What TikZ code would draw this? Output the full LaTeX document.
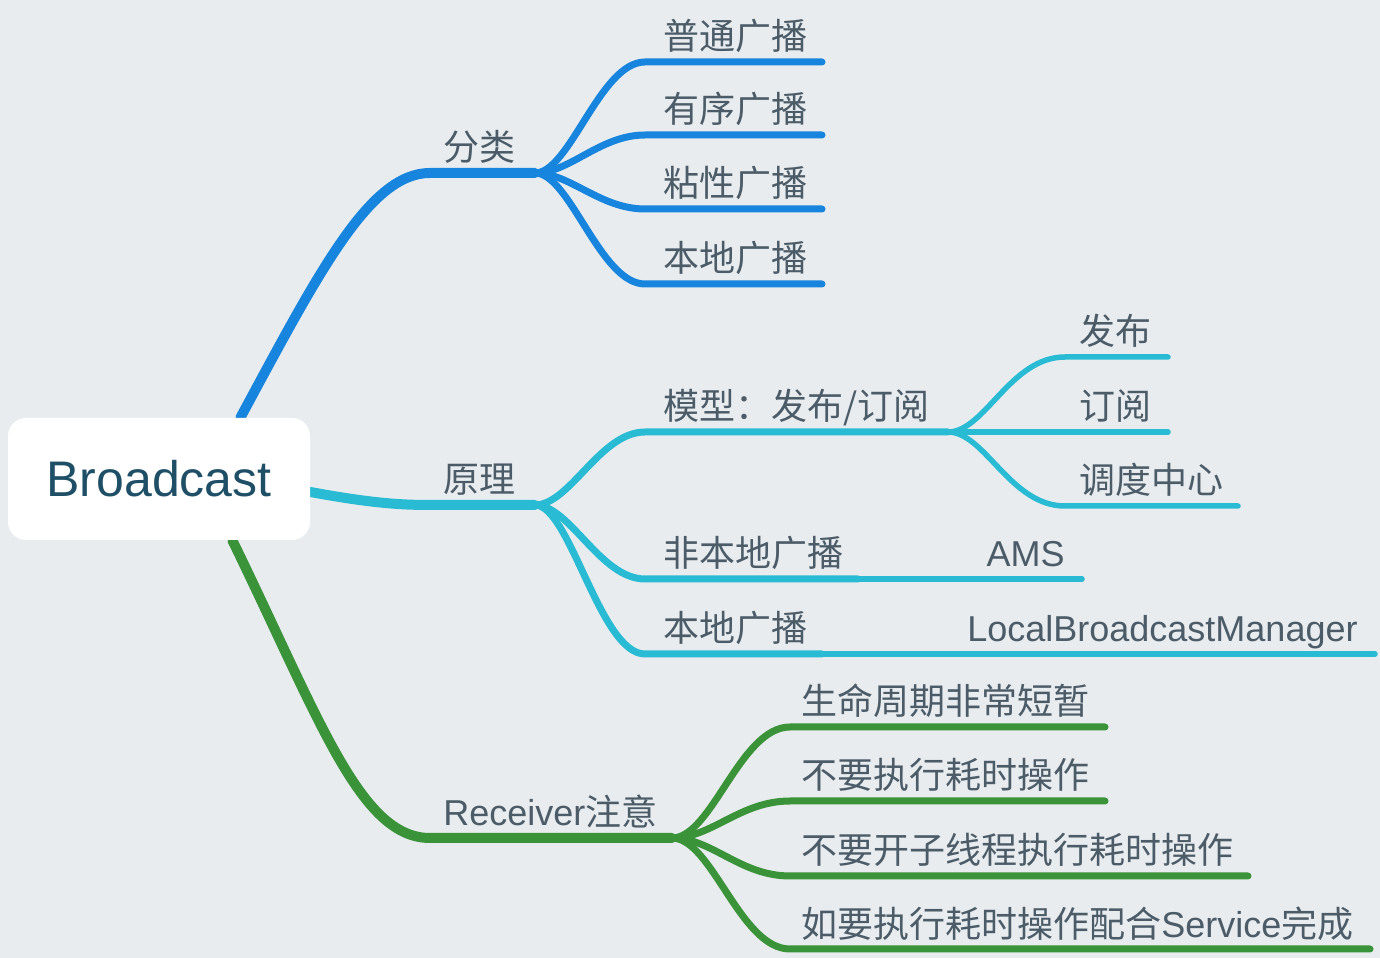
\documentclass[tikz,border=0pt]{standalone}
\usepackage{fontspec}
\setmainfont{Liberation Sans}
\newfontfamily\cjk{Noto Sans CJK SC}
\usetikzlibrary{backgrounds}
\definecolor{canvas}{HTML}{E8ECEF}
\definecolor{fenlei}{HTML}{1785DD}
\definecolor{yuanli}{HTML}{28BBD3}
\definecolor{zhuyi}{HTML}{3A9338}
\definecolor{ink}{HTML}{4B5C68}
\definecolor{rootink}{HTML}{1E4F66}
\begin{document}
\begin{tikzpicture}[line join=round,
  topic/.style={anchor=base west,inner sep=0pt,text=ink,font=\fontsize{18bp}{22bp}\selectfont},
  trunk/.style={line width=5bp,line cap=round},
  limb/.style={line width=3.5bp,line cap=round},
  twig/.style={line width=2.75bp,line cap=round}]
%%
\useasboundingbox (0bp,0bp) rectangle (690bp,479bp);
\node (node_0) at (79.5bp,239.5bp) [fill=white,rounded corners=9bp,minimum width=151bp,minimum height=61bp,text=rootink,font=\fontsize{25bp}{30bp}\selectfont] {Broadcast};
  \node (node_1) at (221.5bp,398.5bp) [topic] {\cjk 分类};
  \node (node_2) at (331.5bp,454bp) [topic] {\cjk 普通广播};
  \node (node_3) at (331.5bp,417.5bp) [topic] {\cjk 有序广播};
  \node (node_4) at (331.5bp,380.5bp) [topic] {\cjk 粘性广播};
  \node (node_5) at (331.5bp,343bp) [topic] {\cjk 本地广播};
  \node (node_6) at (221.5bp,232.5bp) [topic] {\cjk 原理};
  \node (node_7) at (331.5bp,269bp) [topic] {\cjk 模型：发布/订阅};
  \node (node_8) at (539.5bp,306.5bp) [topic] {\cjk 发布};
  \node (node_9) at (539.5bp,269bp) [topic] {\cjk 订阅};
  \node (node_10) at (539.5bp,232bp) [topic] {\cjk 调度中心};
  \node (node_11) at (331.5bp,195.5bp) [topic] {\cjk 非本地广播};
  \node (node_12) at (532.5bp,195.5bp) [topic,anchor=base east] {AMS};
  \node (node_13) at (331.5bp,158bp) [topic] {\cjk 本地广播};
  \node (node_14) at (679bp,158bp) [topic,anchor=base east] {LocalBroadcastManager};
  \node (node_15) at (221.5bp,66bp) [topic] {Receiver{\cjk 注意}};
  \node (node_16) at (400.5bp,121.5bp) [topic] {\cjk 生命周期非常短暂};
  \node (node_17) at (400.5bp,84.5bp) [topic] {\cjk 不要执行耗时操作};
  \node (node_18) at (400.5bp,47bp) [topic] {\cjk 不要开子线程执行耗时操作};
  \node (node_19) at (400.5bp,10.5bp) [topic] {{\cjk 如要执行耗时操作配合}Service{\cjk 完成}};
%
  \coordinate (fork_1) at (267.5bp,392.5bp);
  \coordinate (fork_2) at (267.5bp,226.5bp);
  \coordinate (fork_3) at (474bp,263bp);
  \coordinate (fork_4) at (429bp,189.5bp);
  \coordinate (fork_5) at (411bp,152bp);
  \coordinate (fork_6) at (336bp,60bp);
  \coordinate (end_2) at (411bp,448bp);
  \coordinate (end_3) at (411bp,411.5bp);
  \coordinate (end_4) at (411bp,374.5bp);
  \coordinate (end_5) at (411bp,337bp);
  \coordinate (end_8) at (584bp,300.5bp);
  \coordinate (end_9) at (584bp,263bp);
  \coordinate (end_10) at (619bp,226bp);
  \coordinate (end_12) at (541bp,189.5bp);
  \coordinate (end_14) at (687.5bp,152bp);
  \coordinate (end_16) at (552.5bp,115.5bp);
  \coordinate (end_17) at (552.5bp,78.5bp);
  \coordinate (end_18) at (624bp,41bp);
  \coordinate (end_19) at (685bp,4.5bp);
%
\begin{scope}[on background layer]
  \fill [canvas] (0bp,0bp) rectangle (690bp,479bp);
  % 分类
  \draw [trunk,fenlei] ([xshift=-35bp]node_0.north east) ..controls (160bp,344bp) and (185bp,392.5bp) .. (215bp,392.5bp) -- (fork_1);
  \draw [limb,fenlei] (fork_1) ..controls (285bp,392.5bp) and (300bp,448bp) .. (322.5bp,448bp) -- (end_2);
  \draw [limb,fenlei] (fork_1) ..controls (285bp,392.5bp) and (300bp,411.5bp) .. (322.5bp,411.5bp) -- (end_3);
  \draw [limb,fenlei] (fork_1) ..controls (285bp,392.5bp) and (300bp,374.5bp) .. (322.5bp,374.5bp) -- (end_4);
  \draw [limb,fenlei] (fork_1) ..controls (285bp,392.5bp) and (300bp,337bp) .. (322.5bp,337bp) -- (end_5);
  % 原理
  \draw [trunk,yuanli] ([yshift=-6.5bp]node_0.east) ..controls (185bp,227.5bp) and (200bp,226.5bp) .. (215bp,226.5bp) -- (fork_2);
  \draw [limb,yuanli] (fork_2) ..controls (285bp,226.5bp) and (300bp,263bp) .. (322.5bp,263bp) -- (fork_3);
  \draw [limb,yuanli] (fork_2) ..controls (285bp,226.5bp) and (300bp,189.5bp) .. (322.5bp,189.5bp) -- (fork_4);
  \draw [limb,yuanli] (fork_2) ..controls (285bp,226.5bp) and (300bp,152bp) .. (322.5bp,152bp) -- (fork_5);
  \draw [twig,yuanli] (fork_3) ..controls (492.5bp,263bp) and (505bp,300.5bp) .. (532.5bp,300.5bp) -- (end_8);
  \draw [twig,yuanli] (fork_3) -- (end_9);
  \draw [twig,yuanli] (fork_3) ..controls (492.5bp,263bp) and (505bp,226bp) .. (532.5bp,226bp) -- (end_10);
  \draw [twig,yuanli] (fork_4) -- (end_12);
  \draw [twig,yuanli] (fork_5) -- (end_14);
  % Receiver
  \draw [trunk,zhuyi] ([xshift=-39bp]node_0.south east) ..controls (160bp,119bp) and (180bp,60bp) .. (215bp,60bp) -- (fork_6);
  \draw [limb,zhuyi] (fork_6) ..controls (356bp,60bp) and (370bp,115.5bp) .. (395bp,115.5bp) -- (end_16);
  \draw [limb,zhuyi] (fork_6) ..controls (356bp,60bp) and (370bp,78.5bp) .. (395bp,78.5bp) -- (end_17);
  \draw [limb,zhuyi] (fork_6) ..controls (356bp,60bp) and (370bp,41bp) .. (395bp,41bp) -- (end_18);
  \draw [limb,zhuyi] (fork_6) ..controls (356bp,60bp) and (370bp,4.5bp) .. (395bp,4.5bp) -- (end_19);
\end{scope}
%
\end{tikzpicture}
\end{document}
